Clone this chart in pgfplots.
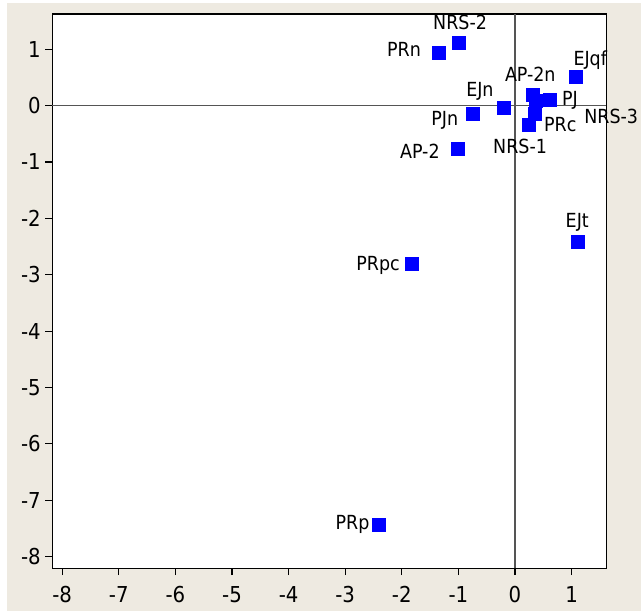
\documentclass[border=0pt]{standalone}
\usepackage{pgfplots}
\pgfplotsset{compat=1.18}
\usepackage{fontspec}
\setmainfont{DejaVu Sans Condensed}
\definecolor{bg}{RGB}{238,234,225}
\definecolor{zline}{RGB}{85,85,85}
\begin{document}
\begin{tikzpicture}
\fill[white] (-52.3bp,-42.8bp) rectangle (588.7bp,568.2bp);
\fill[bg] (-45.3bp,-42.8bp) rectangle (588.7bp,565.2bp);
\begin{axis}[anchor=south west, at={(0bp,0bp)}, scale only axis,
  width=554bp, height=554.2bp,
  xmin=-8.175, xmax=1.613, ymin=-8.205, ymax=1.625,
  axis background/.style={fill=white},
  xtick={-8,-7,-6,-5,-4,-3,-2,-1,0,1},
  ytick={-8,-7,-6,-5,-4,-3,-2,-1,0,1},
  tick align=outside, tick pos=left, major tick length=7bp,
  axis line style={line width=1.4bp, black},
  tick style={line width=1.2bp, black},
  /pgf/number format/assume math mode=true,
  ticklabel style={font=\fontsize{22}{24}\selectfont},
  xticklabel style={yshift=-8bp},
  yticklabel style={xshift=-1bp},
  clip=false,
]
\draw[zline, line width=1.3bp] (axis cs:0,-8.205) -- (axis cs:0,1.625);
\draw[zline, line width=1.3bp] (axis cs:-8.175,0) -- (axis cs:1.613,0);
\addplot[only marks, mark=square*, mark size=6.5bp, color=blue,
  mark options={draw=blue, fill=blue}] table {
x y
-2.40 -7.44
-1.82 -2.81
1.11 -2.42
1.08 0.51
-1.34 0.93
-0.99 1.11
-1.02 -0.77
-0.74 -0.15
-0.20 -0.04
0.32 0.19
0.37 0.09
0.61 0.10
0.35 -0.14
0.24 -0.33
};
\begin{scope}[every node/.style={font=\fontsize{19.5}{22}\selectfont, inner sep=0pt}]
\node at (axis cs:-2.87,-7.42) {PRp};
\node at (axis cs:-2.42,-2.83) {PRpc};
\node at (axis cs:1.10,-2.07) {EJt};
\node at (axis cs:1.33,0.81) {EJqf};
\node at (axis cs:-1.96,1.0) {PRn};
\node at (axis cs:-0.97,1.48) {NRS-2};
\node at (axis cs:-1.68,-0.81) {AP-2};
\node at (axis cs:-1.24,-0.27) {PJn};
\node at (axis cs:-0.62,0.26) {EJn};
\node at (axis cs:0.27,0.56) {AP-2n};
\node at (axis cs:0.97,0.10) {PJ};
\node at (axis cs:1.70,-0.20) {NRS-3};
\node at (axis cs:0.80,-0.34) {PRc};
\node at (axis cs:0.09,-0.72) {NRS-1};
\end{scope}
\end{axis}
\end{tikzpicture}
\end{document}
